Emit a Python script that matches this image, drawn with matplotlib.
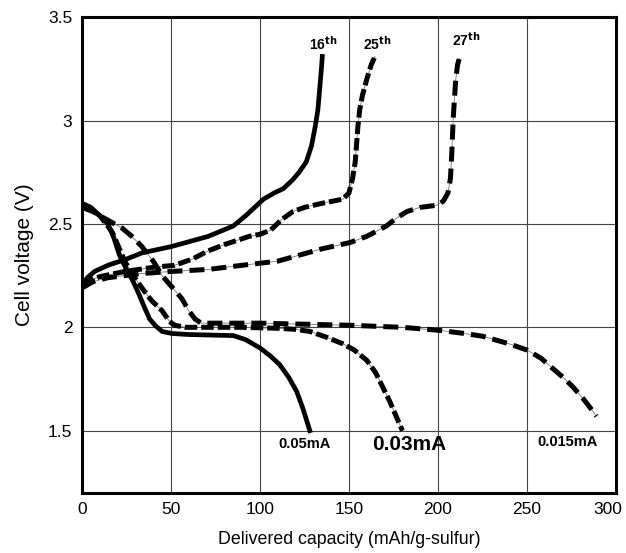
import numpy as np
import matplotlib.pyplot as plt
import matplotlib.transforms as mtransforms

plt.rcParams['font.family'] = ['Liberation Sans', 'DejaVu Sans']

# discharge curves (capacity mAh/g, voltage V)
dis_005_x = [0, 5, 10, 14.6, 18, 21, 25, 28, 32, 35.4, 38, 41, 45, 50.6, 60, 75, 85, 92, 100,
             106, 111, 116, 120.6, 124, 128]
dis_005_y = [2.6, 2.58, 2.54, 2.5, 2.43, 2.35, 2.28, 2.235, 2.16, 2.09, 2.04, 2.01, 1.98, 1.97,
             1.965, 1.962, 1.96, 1.94, 1.9, 1.86, 1.82, 1.76, 1.69, 1.61, 1.5]
dis_003_x = [0, 5, 10, 17, 24, 28, 33.7, 39, 45, 49, 52, 58, 70, 90, 111, 120, 128, 138, 146.6,
             153, 160, 165, 169, 173, 177, 180]
dis_003_y = [2.59, 2.57, 2.54, 2.46, 2.32, 2.26, 2.19, 2.13, 2.08, 2.03, 2.01, 2.0, 2.0, 2.0,
             1.995, 1.99, 1.98, 1.95, 1.92, 1.89, 1.84, 1.78, 1.71, 1.64, 1.56, 1.5]
dis_0015_x = [0, 6, 12, 22.5, 28, 33.7, 40, 45, 50, 56, 60, 63.5, 67, 80, 100, 150, 180, 201,
              215, 225, 240, 250, 258, 264.6, 270, 276, 282, 286.5, 289]
dis_0015_y = [2.58, 2.56, 2.53, 2.48, 2.44, 2.39, 2.32, 2.25, 2.2, 2.14, 2.08, 2.04, 2.02, 2.02,
              2.02, 2.01, 2.0, 1.985, 1.97, 1.957, 1.92, 1.89, 1.85, 1.8, 1.76, 1.71, 1.65, 1.6,
              1.57]

# charge curves
chg_16_x = [0, 3, 7, 14.6, 25, 33.7, 50, 71, 85, 92, 97, 102, 108, 113, 118, 122, 126, 129,
            131, 132.5, 133.5, 134.5, 135]
chg_16_y = [2.2, 2.24, 2.27, 2.3, 2.33, 2.36, 2.39, 2.44, 2.49, 2.54, 2.58, 2.62, 2.65, 2.67,
            2.71, 2.75, 2.8, 2.88, 2.97, 3.05, 3.15, 3.25, 3.31]
chg_25_x = [0, 5, 10, 24, 40, 52, 62, 71, 80, 94, 100, 106, 112, 118.5, 125, 135, 146.6, 150,
            152, 153.5, 155, 156, 157.5, 160, 162.5, 164.6]
chg_25_y = [2.21, 2.23, 2.245, 2.27, 2.29, 2.3, 2.33, 2.37, 2.4, 2.44, 2.45, 2.47, 2.52, 2.56,
            2.58, 2.6, 2.62, 2.65, 2.72, 2.8, 2.97, 3.05, 3.12, 3.2, 3.27, 3.31]
chg_27_x = [0, 6, 14.6, 33.7, 50, 71, 90, 110, 122.5, 135, 150.6, 160, 171, 177, 182.6, 190,
            199, 203, 205.6, 207, 207.8, 208.5, 209.2, 210, 211, 212]
chg_27_y = [2.19, 2.22, 2.24, 2.26, 2.27, 2.28, 2.3, 2.32, 2.35, 2.38, 2.41, 2.44, 2.49, 2.53,
            2.56, 2.58, 2.59, 2.61, 2.65, 2.72, 2.85, 3.0, 3.1, 3.2, 3.27, 3.3]

cycle_labels = ['16', '25', '27']
cycle_pos = [(135.5, 3.33), (166, 3.33), (216, 3.345)]
current_labels = ['0.05mA', '0.03mA', '0.015mA']
current_pos = [(125, 1.435), (184, 1.435), (273, 1.445)]
current_size = [10.5, 15, 10.5]

fig = plt.figure(figsize=(6.26, 5.53), dpi=100)
ax = fig.add_axes([0.131, 0.109, 0.853, 0.86])


def dashed(x, y, dashes):
    ax.plot(x, y, color='#777777', lw=0.6, zorder=2)
    ax.plot(x, y, color='black', lw=3.6, dashes=dashes, solid_capstyle='butt',
            dash_capstyle='butt', zorder=3)


ax.plot(dis_005_x, dis_005_y, color='black', lw=3.4, zorder=3)
ax.plot(chg_16_x, chg_16_y, color='black', lw=3.4, zorder=3)
dashed(dis_003_x, dis_003_y, (2.5, 0.8))
dashed(chg_25_x, chg_25_y, (2.5, 0.8))
dashed(dis_0015_x, dis_0015_y, (3.0, 1.4))
dashed(chg_27_x, chg_27_y, (3.0, 1.4))

for lab, (x, y) in zip(cycle_labels, cycle_pos):
    ax.text(x, y, lab + r'$^{\mathbf{th}}$', fontsize=10, fontweight='bold',
            ha='center', va='bottom')
for lab, (x, y), s in zip(current_labels, current_pos, current_size):
    ax.text(x, y, lab, fontsize=s, fontweight='bold', ha='center', va='center')

ax.set_xlim(0, 300)
ax.set_ylim(1.2, 3.5)
ax.set_xticks([0, 50, 100, 150, 200, 250, 300])
ax.set_yticks([1.5, 2, 2.5, 3, 3.5])
ax.set_yticklabels(['1.5', '2', '2.5', '3', '3.5'])
ax.tick_params(length=0, labelsize=12.5, pad=7)
ax.grid(True, color='#444444', lw=0.8)
ax.set_axisbelow(True)
for sp in ax.spines.values():
    sp.set_linewidth(2.2)
ax.set_xlabel('Delivered capacity (mAh/g-sulfur)', fontsize=12.8, labelpad=10)
ax.set_ylabel('Cell voltage (V)', fontsize=15, labelpad=10)

# last x tick label sits a little to the left so it stays inside the figure
last = ax.get_xticklabels()[-1]
last.set_transform(last.get_transform() +
                   mtransforms.ScaledTranslation(-8 / 100, 0, fig.dpi_scale_trans))

fig.savefig('out.png', dpi=100)
